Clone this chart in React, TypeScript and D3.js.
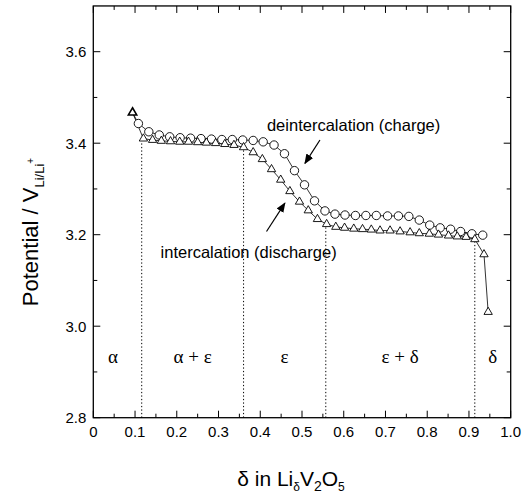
import * as d3 from 'd3';

// discharge (intercalation) – triangles
const dischargeX = [0.094, 0.120, 0.142, 0.163, 0.185, 0.207, 0.228, 0.250, 0.271, 0.293, 0.315, 0.337, 0.360, 0.383, 0.405, 0.427, 0.449, 0.471, 0.494, 0.515, 0.537, 0.559, 0.581, 0.602, 0.624, 0.645, 0.666, 0.687, 0.711, 0.735, 0.759, 0.781, 0.805, 0.827, 0.851, 0.872, 0.893, 0.914, 0.936, 0.946];
const dischargeV = [3.467, 3.410, 3.407, 3.405, 3.404, 3.403, 3.403, 3.402, 3.401, 3.400, 3.398, 3.396, 3.391, 3.380, 3.365, 3.343, 3.320, 3.295, 3.272, 3.253, 3.234, 3.223, 3.217, 3.215, 3.213, 3.212, 3.211, 3.209, 3.209, 3.207, 3.205, 3.203, 3.202, 3.200, 3.198, 3.196, 3.195, 3.190, 3.157, 3.031];

// charge (deintercalation) – circles
const chargeX = [0.108, 0.133, 0.158, 0.183, 0.208, 0.233, 0.258, 0.283, 0.308, 0.333, 0.358, 0.383, 0.407, 0.433, 0.458, 0.482, 0.506, 0.530, 0.555, 0.579, 0.603, 0.628, 0.653, 0.678, 0.705, 0.731, 0.756, 0.781, 0.806, 0.831, 0.856, 0.880, 0.907, 0.933];
const chargeV = [3.443, 3.425, 3.418, 3.414, 3.412, 3.411, 3.410, 3.409, 3.408, 3.408, 3.407, 3.406, 3.403, 3.396, 3.377, 3.340, 3.309, 3.274, 3.252, 3.245, 3.243, 3.242, 3.242, 3.242, 3.241, 3.241, 3.240, 3.232, 3.221, 3.215, 3.212, 3.207, 3.202, 3.199];

// phase boundaries (dotted lines)
const boundaryX = [0.116, 0.36, 0.557, 0.914];
const boundaryTop = [3.403, 3.388, 3.22, 3.188];

const phaseLabels = ['α', 'α + ε', 'ε', 'ε + δ', 'δ'];
const phaseX = [0.047, 0.238, 0.458, 0.735, 0.957];
const phaseV = 2.92;

const xTicks = [0, 0.1, 0.2, 0.3, 0.4, 0.5, 0.6, 0.7, 0.8, 0.9, 1.0];
const xTickLabels = ['0', '0.1', '0.2', '0.3', '0.4', '0.5', '0.6', '0.7', '0.8', '0.9', '1.0'];
const yTicks = [2.8, 3.0, 3.2, 3.4, 3.6];
const yTickLabels = ['2.8', '3.0', '3.2', '3.4', '3.6'];

const W = 530;
const H = 498;
const sans = 'Liberation Sans, Arial, Helvetica, sans-serif';
const serif = 'Liberation Serif, Times New Roman, serif';

export default function App() {
  const x = d3.scaleLinear().domain([0, 1]).range([93.3, 510.7]);
  const y = d3.scaleLinear().domain([2.8, 3.7]).range([417.7, 5.95]);
  const [x0, x1] = x.range();
  const [y0, y1] = y.range();

  const discharge = dischargeX.map((d, i) => [d, dischargeV[i]] as [number, number]);
  const charge = chargeX.map((d, i) => [d, chargeV[i]] as [number, number]);

  const line = d3.line<[number, number]>()
    .x(d => x(d[0]))
    .y(d => y(d[1]));

  const tri = d3.symbol().type(d3.symbolTriangle).size(30)();

  const xMinor = d3.range(0.05, 1, 0.1);
  const yMinor = d3.range(2.9, 3.65, 0.2);

  return (
    <svg width={W} height={H} style={{ position: 'absolute', left: 0, top: 0, background: '#fff' }}>
      <defs>
        <marker id="ah" viewBox="0 0 10 10" refX="9" refY="5" markerWidth="10" markerHeight="10" markerUnits="userSpaceOnUse" orient="auto">
          <path d="M0,1 L10,5 L0,9 z" fill="#000" />
        </marker>
      </defs>

      {/* ticks */}
      <g stroke="#000" strokeWidth={1}>
        {xTicks.map(t => (
          <g key={'xt' + t}>
            <line x1={x(t)} x2={x(t)} y1={y0} y2={y0 - 7} />
            <line x1={x(t)} x2={x(t)} y1={y1} y2={y1 + 7} />
          </g>
        ))}
        {xMinor.map(t => (
          <g key={'xm' + t}>
            <line x1={x(t)} x2={x(t)} y1={y0} y2={y0 - 4} />
            <line x1={x(t)} x2={x(t)} y1={y1} y2={y1 + 4} />
          </g>
        ))}
        {yTicks.map(t => (
          <g key={'yt' + t}>
            <line x1={x0} x2={x0 + 7} y1={y(t)} y2={y(t)} />
            <line x1={x1} x2={x1 - 7} y1={y(t)} y2={y(t)} />
          </g>
        ))}
        {yMinor.map(t => (
          <g key={'ym' + t}>
            <line x1={x0} x2={x0 + 4} y1={y(t)} y2={y(t)} />
            <line x1={x1} x2={x1 - 4} y1={y(t)} y2={y(t)} />
          </g>
        ))}
      </g>
      <rect x={x0} y={y1} width={x1 - x0} height={y0 - y1} fill="none" stroke="#000" strokeWidth={1.3} />

      {/* tick labels */}
      <g fontFamily={sans} fontSize={15} fill="#000">
        {xTicks.map((t, i) => (
          <text key={'xl' + t} x={x(t)} y={y0 + 19} textAnchor="middle">{xTickLabels[i]}</text>
        ))}
        {yTicks.map((t, i) => (
          <text key={'yl' + t} x={x0 - 7} y={y(t) + 5.5} textAnchor="end">{yTickLabels[i]}</text>
        ))}
      </g>

      {/* phase boundaries */}
      <g stroke="#000" strokeWidth={1} strokeDasharray="1.3,2.2">
        {boundaryX.map((b, i) => (
          <line key={'b' + b} x1={x(b)} x2={x(b)} y1={y0} y2={y(boundaryTop[i])} />
        ))}
      </g>

      {/* curves */}
      <path d={line([discharge[0], ...charge]) || ''} fill="none" stroke="#000" strokeWidth={0.8} />
      <path d={line(discharge) || ''} fill="none" stroke="#000" strokeWidth={0.8} />
      {charge.map((d, i) => (
        <circle key={'c' + i} cx={x(d[0])} cy={y(d[1])} r={4.2} fill="#fff" stroke="#000" strokeWidth={0.9} />
      ))}
      {discharge.map((d, i) => (
        <path key={'t' + i} d={tri || ''} transform={`translate(${x(d[0])},${y(d[1])})`} fill="#fff" stroke="#000" strokeWidth={i === 0 ? 1.6 : 0.9} />
      ))}

      {/* annotations */}
      <g fontFamily={sans} fontSize={16.5} fill="#000">
        <text x={x(0.416)} y={y(3.427)}>deintercalation (charge)</text>
        <text x={x(0.583)} y={y(3.149)} textAnchor="end">intercalation (discharge)</text>
      </g>
      <line x1={x(0.543)} y1={y(3.407)} x2={x(0.507)} y2={y(3.356)} stroke="#000" strokeWidth={1.2} markerEnd="url(#ah)" />
      <line x1={x(0.415)} y1={y(3.207)} x2={x(0.459)} y2={y(3.269)} stroke="#000" strokeWidth={1.2} markerEnd="url(#ah)" />

      <g fontFamily={serif} fontSize={19} fill="#000">
        {phaseLabels.map((p, i) => (
          <text key={'p' + i} x={x(phaseX[i])} y={y(phaseV)} textAnchor="middle">{p}</text>
        ))}
      </g>

      {/* axis titles */}
      <text x={291} y={486} textAnchor="middle" fontFamily={sans} fontSize={21} fill="#000">
        δ in Li<tspan dy={5} fontSize={12}>δ</tspan><tspan dy={-5}>V</tspan><tspan dy={5} fontSize={14}>2</tspan><tspan dy={-5}>O</tspan><tspan dy={5} fontSize={12}>5</tspan>
      </text>
      <text transform="translate(38,232) rotate(-90)" textAnchor="middle" fontFamily={sans} fontSize={22} fill="#000">
        Potential / V<tspan dy={6} fontSize={13}>Li/Li</tspan><tspan dy={-10} fontSize={10}>+</tspan>
      </text>
    </svg>
  );
}
